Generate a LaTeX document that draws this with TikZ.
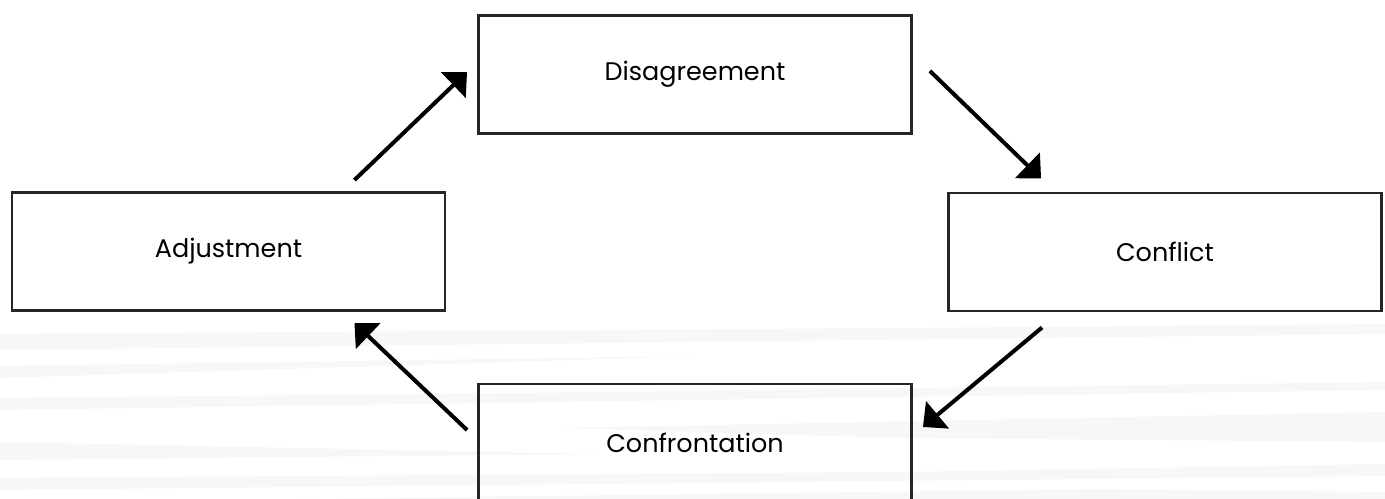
\documentclass[tikz,border=0pt]{standalone}
\usepackage{fontspec}
\setmainfont{Poppins}
\usetikzlibrary{shapes, arrows.meta, positioning, calc}
\tikzstyle{stage} = [rectangle, draw=black!85, line width=0.05cm, minimum width=8.67cm, minimum height=2.37cm, inner sep=0pt, font=\fontsize{14.5}{17}\selectfont]
\tikzstyle{line} = [draw, line width=0.08cm, -{Triangle[length=0.38cm, width=0.7cm]}]
\tikzstyle{streak} = [fill=black, opacity=0.03]

\begin{document}
\begin{tikzpicture}[x=0.02cm, y=-0.02cm]
			\useasboundingbox (0,0) rectangle (1385,499);
			% background streaks
			\fill [streak] (0,334) -- (900,328) -- (1385,324) -- (1385,334) -- (0,350) -- cycle;
			\fill [streak] (0,366) -- (700,356) -- (0,378) -- cycle;
			\fill [streak] (0,398) -- (520,393) -- (1385,382) -- (1385,390) -- (0,410) -- cycle;
			\fill [streak] (560,428) -- (1385,412) -- (1385,442) -- (900,438) -- cycle;
			\fill [streak] (0,442) -- (600,454) -- (0,460) -- cycle;
			\fill [streak] (0,478) -- (900,472) -- (1385,464) -- (1385,476) -- (0,490) -- cycle;
			\fill [streak] (300,499) -- (1100,489) -- (1385,492) -- (1385,499) -- cycle;

			\node [stage, fill=white] (dis) at (695,74.5) {Disagreement};
			\node [stage, fill=white] (adj) at (228.5,251.5) {Adjustment};
			\node [stage, fill=white] (con) at (1165,252) {Conflict};
			\node [stage] (cft) at (695,443) {Confrontation};

			\path [line] ($(adj.north east)+(-92,-11)$) -- ($(dis.west)+(-10,-2.5)$);
			\path [line] ($(dis.east)+(17,-3.5)$) -- ($(con.north west)+(94,-13)$);
			\path [line] ($(con.south west)+(95,15)$) -- ($(cft.east)+(10,-16)$);
			\path [line] ($(cft.west)+(-10,-13)$) -- ($(adj.south east)+(-92,11)$);
		\end{tikzpicture}
\end{document}
